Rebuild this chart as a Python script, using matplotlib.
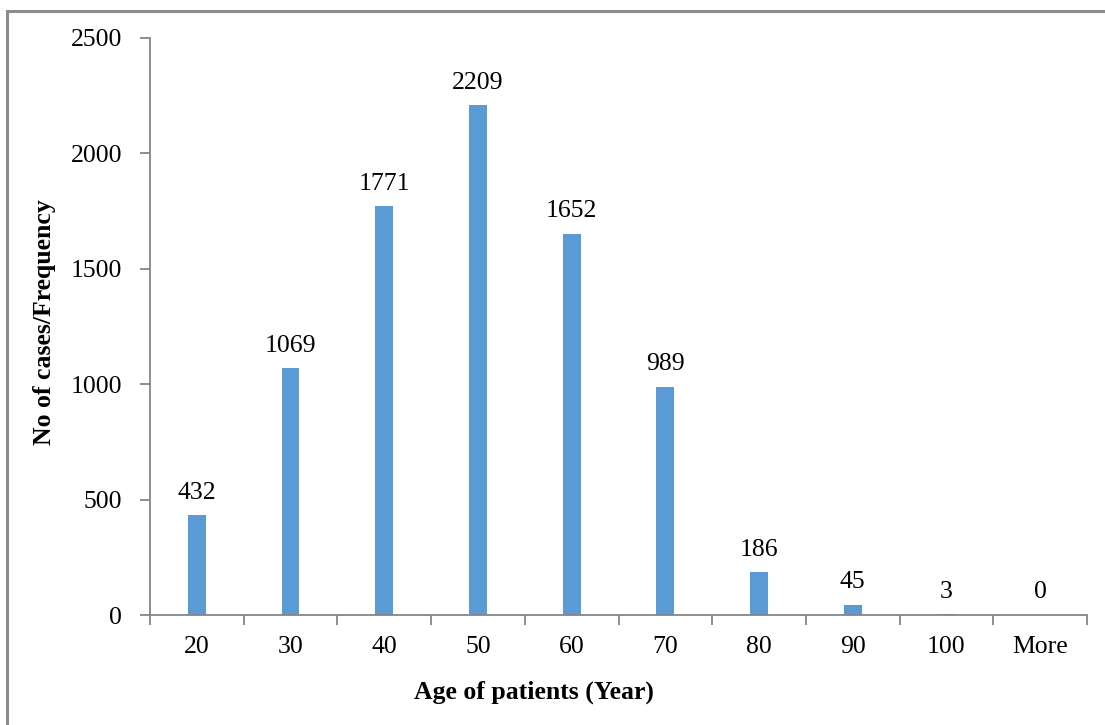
import matplotlib.pyplot as plt
from matplotlib.patches import Rectangle
import numpy as np

# datos
categorias = ['20', '30', '40', '50', '60', '70', '80', '90', '100', 'More']
frecuencias = [432, 1069, 1771, 2209, 1652, 989, 186, 45, 3, 0]

plt.rcParams['font.family'] = ['Liberation Serif', 'DejaVu Serif']
fs = 18.5

fig = plt.figure(figsize=(11.05, 7.25), dpi=100)
ax = fig.add_axes([150 / 1105, 110 / 725, 937 / 1105, 577 / 725])

# marco gris alrededor de la figura
fig.patches.append(Rectangle((7 / 1105, -0.05), 1.1, (725 - 11) / 725 + 0.05,
                             transform=fig.transFigure, fill=False,
                             edgecolor='#8c8c8c', linewidth=2.2))

x = np.arange(len(categorias))
barras = ax.bar(x, frecuencias, width=0.19, color='#5B9BD5')

for xi, v in zip(x, frecuencias):
    ax.text(xi, v + 50, str(v), ha='center', va='bottom', fontsize=fs)

ax.set_xlim(-0.5, len(categorias) - 0.5)
ax.set_ylim(0, 2500)
ax.set_yticks(np.arange(0, 2501, 500))
ax.set_xticks(x)
ax.set_xticklabels(categorias)
ax.set_xticks(np.arange(-0.5, len(categorias)), minor=True)

ax.tick_params(axis='x', which='major', length=0, labelsize=fs, pad=15)
ax.tick_params(axis='x', which='minor', length=7, color='#868686', width=1.3)
ax.tick_params(axis='y', length=7, color='#868686', width=1.3, labelsize=fs, pad=13)

for s in ['top', 'right']:
    ax.spines[s].set_visible(False)
for s in ['left', 'bottom']:
    ax.spines[s].set_color('#868686')
    ax.spines[s].set_linewidth(1.3)

ax.set_xlabel('Age of patients (Year)', fontsize=fs, fontweight='bold')
ax.set_ylabel('No of cases/Frequency', fontsize=fs, fontweight='bold')
ax.xaxis.set_label_coords(0.41, -0.114)
ax.yaxis.set_label_coords(-0.100, 0.508)

plt.savefig('out.png', dpi=100)
